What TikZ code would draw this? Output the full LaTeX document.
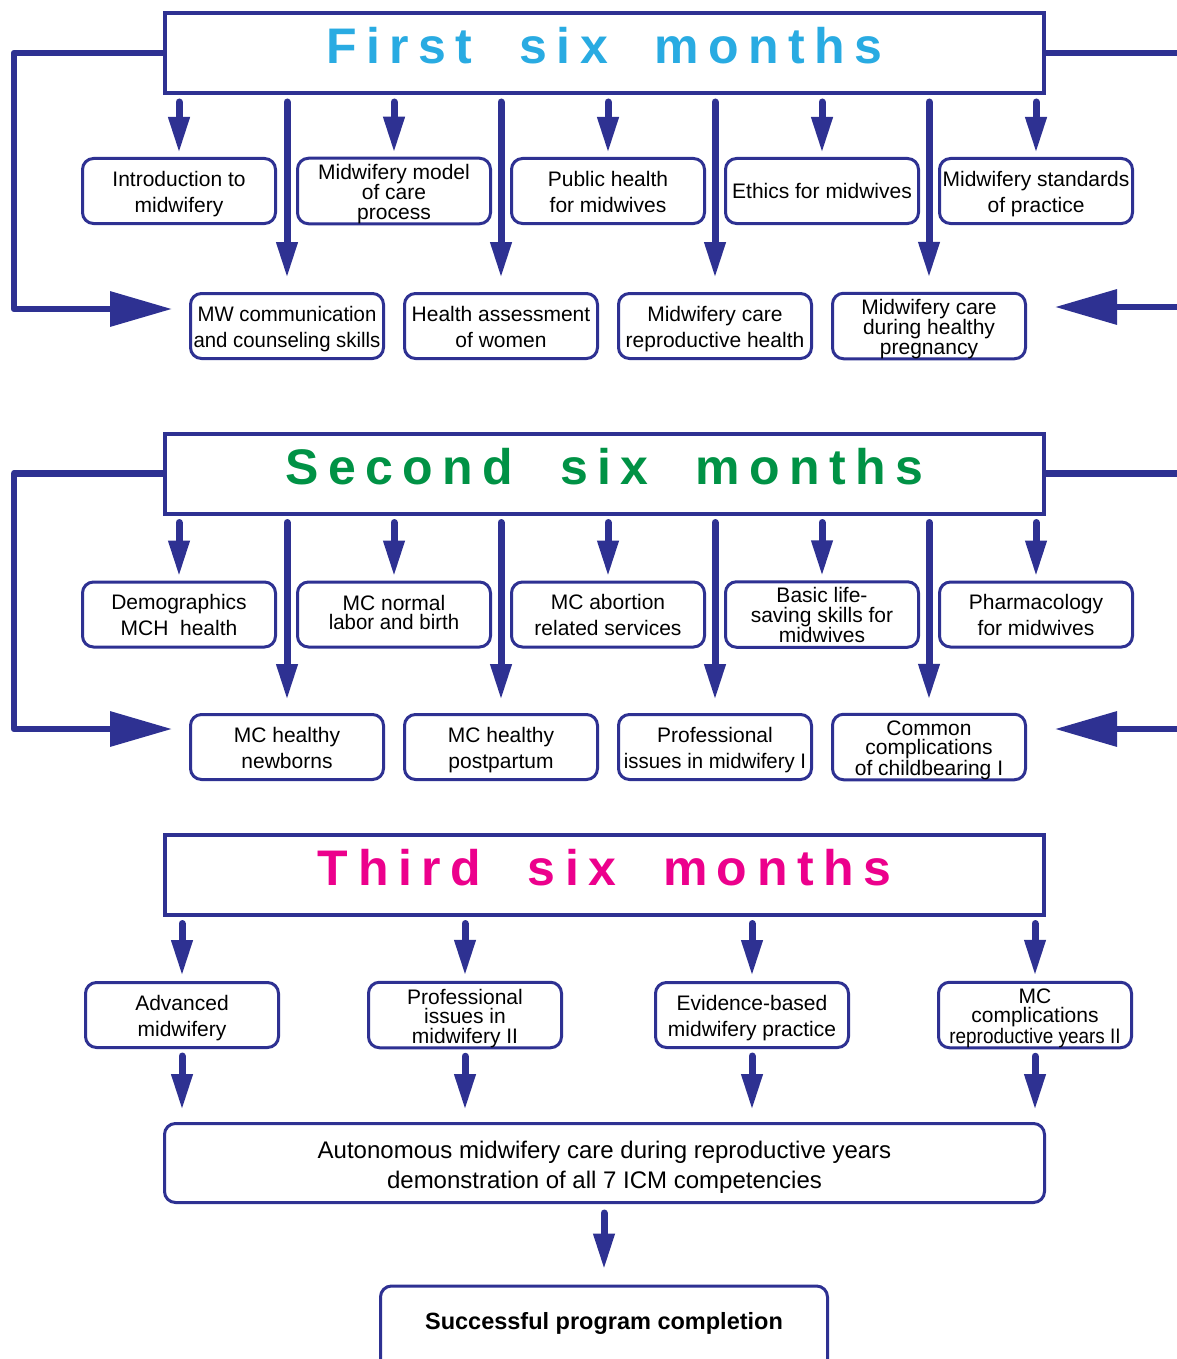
\documentclass[tikz,border=0pt]{standalone}
\usepackage{graphicx}
\usepackage{fontspec}
\setmainfont{Liberation Sans}
\newfontfamily\titlefont{Liberation Sans}[LetterSpace=19]
\usetikzlibrary{arrows.meta}

\definecolor{navy}{HTML}{2E3192}
\definecolor{skyT}{HTML}{29ABE2}
\definecolor{greenT}{HTML}{009245}
\definecolor{pinkT}{HTML}{EC008C}

\newcommand{\narrow}[2][0.97]{\scalebox{#1}[1]{#2}}

\tikzset{
  header/.style={draw=navy, line width=4pt, fill=white, inner sep=0pt,
    minimum width=879pt, minimum height=80pt, text height=34pt, text depth=12pt,
    font={\titlefont\bfseries\fontsize{50}{50}\selectfont}},
  % two-line course box (default)
  course/.style={draw=navy, line width=3pt, fill=white, rounded corners=11pt,
    minimum width=193pt, minimum height=65pt, inner sep=0pt, align=center,
    font={\fontsize{21}{26}\selectfont}, text height=47.5pt, text depth=5pt},
  oneline/.style={text height=15.3pt, text depth=0pt},
  tight/.style={font={\fontsize{21}{19.5}\selectfont}, text height=61pt, text depth=4.5pt},
  tighttwo/.style={font={\fontsize{21}{19.5}\selectfont}, text height=35.8pt, text depth=5pt},
  feed/.style={navy, line width=7pt, line cap=round,
    -{Triangle[length=36pt,width=20pt]}},
  loopline/.style={navy, line width=6.5pt, line join=round,
    -{Triangle[length=62pt,width=34pt]}},
}

\begin{document}
\begin{tikzpicture}[x=1pt, y=-1pt]
\useasboundingbox (0,0) rectangle (1177,1359);
\fill[white] (0,0) rectangle (1177,1359);
\clip (0,0) rectangle (1177,1359);

% ---------- first six months ----------
\node[header, text=skyT] (h1) at (604.5,53) {First\ \ six\ \ months};
\node[course] (a1) at (179,191) {Introduction to\\midwifery};
\node[course, tight] (a2) at (394,191) {Midwifery model\\of care\\process};
\node[course] (a3) at (608,191) {Public health\\for midwives};
\node[course, oneline] (a4) at (822,191) {Ethics for midwives};
\node[course] (a5) at (1036,191) {Midwifery standards\\of practice};
\node[course] (b1) at (287,326) {\narrow{MW communication}\\\narrow{and counseling skills}};
\node[course] (b2) at (501,326) {Health assessment\\of women};
\node[course] (b3) at (715,326) {Midwifery care\\reproductive health};
\node[course, tight] (b4) at (929,326) {Midwifery care\\during healthy\\pregnancy};

\foreach \n in {a1,a2,a3,a4,a5}
  \draw[feed] ([yshift=-7pt]h1.south -| \n.north) -- ([yshift=4pt]\n.north);
\foreach \n in {b1,b2,b3,b4}
  \draw[feed] ([yshift=-7pt]h1.south -| \n.north) -- ([yshift=14pt]\n.north);

\coordinate (l1) at (14,309);
\coordinate (r1) at (1200,307);
\draw[loopline] (h1.west) -| (l1) -- ([xshift=-17pt]b1.west |- l1);
\draw[loopline] (h1.east) -| (r1) -- ([xshift=28pt]b4.east |- r1);

% ---------- second six months ----------
\node[header, text=greenT] (h2) at (604.5,473.5) {Second\ \ six\ \ months};
\node[course] (c1) at (179,614.5) {Demographics\\MCH\ \ health};
\node[course, tighttwo] (c2) at (394,614.5) {MC normal\\\narrow{labor and birth}};
\node[course] (c3) at (608,614.5) {MC abortion\\related services};
\node[course, tight] (c4) at (822,614.5) {Basic life-\\saving skills for\\midwives};
\node[course] (c5) at (1036,614.5) {Pharmacology\\for midwives};
\node[course] (d1) at (287,747) {MC healthy\\newborns};
\node[course] (d2) at (501,747) {MC healthy\\postpartum};
\node[course] (d3) at (715,747) {Professional\\\narrow{issues in midwifery I}};
\node[course, tight] (d4) at (929,747) {Common\\complications\\of childbearing I};

\foreach \n in {c1,c2,c3,c4,c5}
  \draw[feed] ([yshift=-7pt]h2.south -| \n.north) -- ([yshift=4pt]\n.north);
\foreach \n in {d1,d2,d3,d4}
  \draw[feed] ([yshift=-7pt]h2.south -| \n.north) -- ([yshift=13pt]\n.north);

\coordinate (l2) at (14,729);
\coordinate (r2) at (1200,729);
\draw[loopline] (h2.west) -| (l2) -- ([xshift=-17pt]d1.west |- l2);
\draw[loopline] (h2.east) -| (r2) -- ([xshift=28pt]d4.east |- r2);

% ---------- third six months ----------
\node[header, text=pinkT] (h3) at (604.5,874.5) {Third\ \ six\ \ months};
\node[course] (e1) at (182,1015) {Advanced\\midwifery};
\node[course, tight] (e2) at (465,1015) {Professional\\issues in\\midwifery II};
\node[course] (e3) at (752,1015) {Evidence-based\\midwifery practice};
\node[course, tight] (e4) at (1035,1015) {MC\\complications\\\narrow[0.9]{reproductive years II}};

\node[course, minimum width=880pt, minimum height=79pt,
  font={\fontsize{24}{30}\selectfont}, text height=55.5pt, text depth=5pt] (fin) at (604.5,1163)
  {Autonomous midwifery care during reproductive years\\demonstration of all 7 ICM competencies};

\node[course, anchor=north, minimum width=447pt, inner ysep=28.5pt,
  text height=15pt, text depth=20pt,
  font={\bfseries\fontsize{23.5}{28}\selectfont}] (done) at (604,1284.5)
  {Successful program completion};

\foreach \n in {e1,e2,e3,e4} {
  \draw[feed] ([yshift=-7pt]h3.south -| \n.north) -- ([yshift=5pt]\n.north);
  \draw[feed] ([yshift=-7pt]\n.south) -- ([yshift=12pt]\n.south |- fin.north);
}
\draw[feed] ([yshift=-9pt]fin.south -| done.north) -- ([yshift=15pt]done.north);

\end{tikzpicture}
\end{document}
